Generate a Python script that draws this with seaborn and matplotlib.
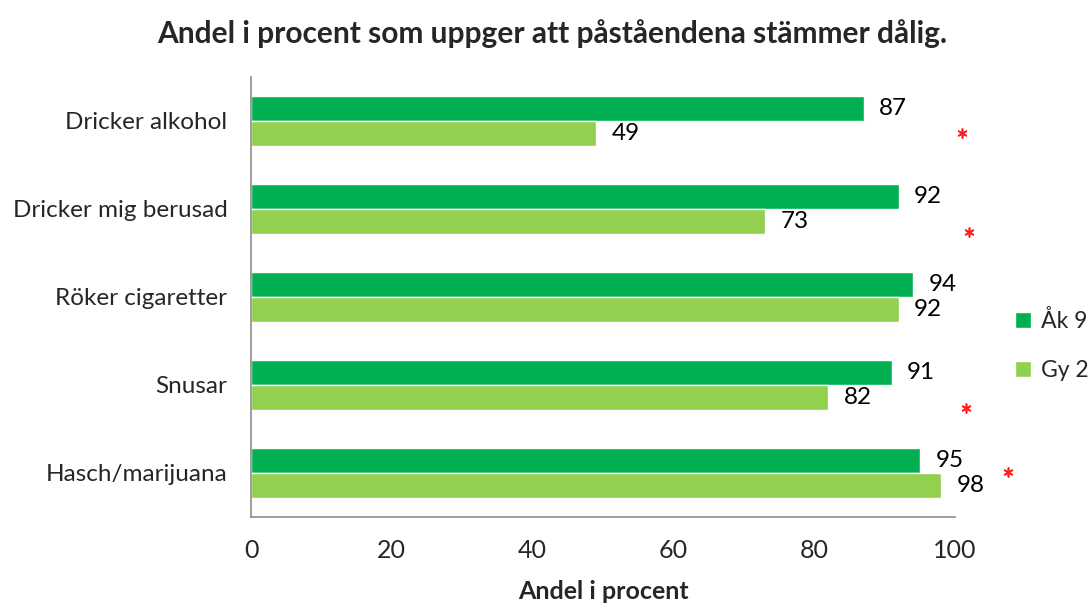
"""
Andel i procent som uppger att påståendena stämmer dålig - grouped horizontal bars
"""
import numpy as np
import pandas as pd
import matplotlib
matplotlib.use('Agg')
import matplotlib.pyplot as plt
import seaborn as sns

# Data
categories = ['Dricker alkohol', 'Dricker mig berusad', 'Röker cigaretter',
              'Snusar', 'Hasch/marijuana']
ak9 = [87, 92, 94, 91, 95]
gy2 = [49, 73, 92, 82, 98]
series = ['Åk 9', 'Gy 2']
colors = ['#00B050', '#92D050']

# significance markers (x value, category position)
star_x = [101, 102, 101.5, 107.5]
star_pos = [0.14, 1.26, 3.26, 3.99]

x_ticks = [0, 20, 40, 60, 80, 100]

df = pd.DataFrame({
    'Kategori': categories * 2,
    'Andel': ak9 + gy2,
    'Grupp': [series[0]] * len(categories) + [series[1]] * len(categories),
})

sns.set_style('white')
plt.rcParams['font.family'] = ['Lato', 'DejaVu Sans']

fig = plt.figure(figsize=(10.91, 6.05), dpi=100)
ax = fig.add_axes([0.2301, 0.1455, 0.6453, 0.7273])

sns.barplot(data=df, y='Kategori', x='Andel', hue='Grupp', order=categories,
            hue_order=series, palette=colors, width=0.57, saturation=1,
            orient='h', ax=ax, legend=True)

# value labels
for cont in ax.containers:
    for bar in cont:
        w = bar.get_width()
        ax.text(w + 2.2, bar.get_y() + bar.get_height() / 2, f'{w:.0f}',
                ha='left', va='center', fontsize=17.5, color='black')

ax.scatter(star_x, star_pos, marker=(6, 2, 0), s=40, color='#FF2020',
           linewidths=1.2, clip_on=False, zorder=5)

ax.set_xlim(0, 100)
ax.set_ylim(len(categories) - 0.5, -0.5)
ax.set_xticks(x_ticks)
ax.set_xticklabels([str(t) for t in x_ticks], fontsize=18)
ax.set_yticks(np.arange(len(categories) + 1) - 0.5, minor=True)
ax.set_yticks(np.arange(len(categories)))
ax.set_yticklabels(categories, fontsize=17.5)
ax.tick_params(axis='y', which='major', length=0, pad=17)
ax.tick_params(axis='y', which='minor', length=8, color='#8C8C8C', width=1.2)
ax.tick_params(axis='x', length=7, color='#8C8C8C', width=1.2, pad=9)

for side in ['top', 'right']:
    ax.spines[side].set_visible(False)
for side in ['left', 'bottom']:
    ax.spines[side].set_color('#8C8C8C')
    ax.spines[side].set_linewidth(1.2)

ax.set_ylabel('')
ax.set_xlabel('Andel i procent', fontsize=18, fontweight='bold', labelpad=13)

leg = ax.legend(loc='center left', bbox_to_anchor=(1.085, 0.39), frameon=False,
                fontsize=16.5, handlelength=0.7, handleheight=0.7,
                labelspacing=1.25, handletextpad=0.45, borderaxespad=0,
                borderpad=0)

fig.suptitle('Andel i procent som uppger att påståendena stämmer dålig.',
             x=0.506, y=0.968, fontsize=21.5, fontweight='bold')

fig.savefig('out.png', dpi=100, facecolor='white')
